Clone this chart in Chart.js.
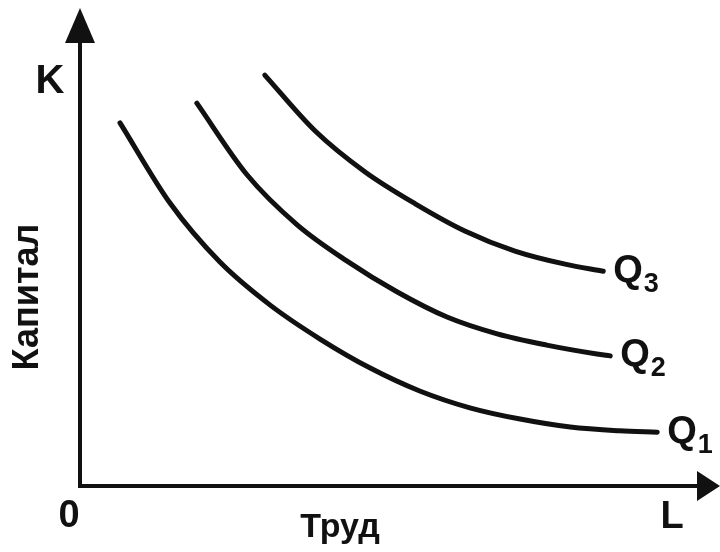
<!DOCTYPE html>
<html>
<head>
<meta charset="utf-8">
<script src="https://cdn.jsdelivr.net/npm/chart.js@4/dist/chart.umd.min.js"></script>
<style>
  body { margin: 0; background: #fff; }
  #wrap { width: 720px; height: 552px; position: relative; }
</style>
</head>
<body>
<div id="wrap"><canvas id="chart1"></canvas></div>
<script>
// isoquants: labour (L) on x, capital (K) on y, 0..100 scale
const q1L = [6.3, 14.2, 22.0, 29.9, 37.8, 45.7, 53.5, 61.4, 69.3, 77.2, 85.0, 90.9];
const q1K = [77.6, 60.4, 47.9, 38.7, 31.4, 25.2, 20.3, 16.7, 14.3, 12.6, 11.8, 11.5];
const q2L = [18.4, 26.3, 34.2, 42.0, 49.9, 57.8, 65.7, 73.5, 81.4, 83.5];
const q2K = [81.8, 66.5, 55.8, 48.1, 41.5, 36.1, 32.5, 30.1, 28.2, 27.8];
const q3L = [29.1, 37.0, 44.9, 52.8, 60.6, 68.5, 76.4, 82.4];
const q3K = [87.8, 75.9, 67.1, 60.3, 54.5, 50.2, 47.4, 45.9];
const curveNames = ['Q', 'Q', 'Q'];
const curveSubs = ['1', '2', '3'];

const axisTitleX = 'Труд';
const axisTitleY = 'Капитал';
const axisLetterX = 'L';
const axisLetterY = 'K';
const originLabel = '0';

const toPoints = (xs, ys) => xs.map((x, i) => ({ x: x, y: ys[i] }));

const ink = '#111';
const fontFam = '"Liberation Sans", Arial, sans-serif';

// axes with arrows + all the text
const drawAxes = {
  id: 'drawAxes',
  afterDraw(chart) {
    const c = chart.ctx;
    const xs = chart.scales.x, ys = chart.scales.y;
    const ox = xs.getPixelForValue(0), oy = ys.getPixelForValue(0);
    const area = chart.chartArea;
    const topTip = area.top - 10, rightTip = area.right + 5;

    c.save();
    c.strokeStyle = ink;
    c.fillStyle = ink;
    c.lineWidth = 4;
    c.beginPath();
    c.moveTo(ox, topTip + 30);
    c.lineTo(ox, oy);
    c.lineTo(rightTip - 20, oy);
    c.stroke();

    // arrow heads
    c.beginPath();
    c.moveTo(ox, topTip);
    c.lineTo(ox - 15, topTip + 35);
    c.lineTo(ox + 15, topTip + 35);
    c.closePath();
    c.fill();
    c.beginPath();
    c.moveTo(rightTip, oy);
    c.lineTo(rightTip - 23, oy - 15);
    c.lineTo(rightTip - 23, oy + 15);
    c.closePath();
    c.fill();

    c.textAlign = 'center';
    c.textBaseline = 'middle';
    c.font = 'bold 40px ' + fontFam;
    c.fillText(axisLetterY, ox - 30, 82);
    c.font = 'bold 38px ' + fontFam;
    c.fillText(originLabel, ox - 11, oy + 31);
    c.fillText(axisLetterX, rightTip - 48, oy + 32);
    c.font = 'bold 34px ' + fontFam;
    c.fillText(axisTitleX, (ox + rightTip) / 2 - 60, oy + 42);

    c.save();
    c.translate(ox - 52, (oy + area.top) / 2 + 45);
    c.rotate(-Math.PI / 2);
    c.font = 'bold 36px ' + fontFam;
    c.fillText(axisTitleY, 0, 0);
    c.restore();

    // curve labels Q1..Q3 at the end of each line
    chart.data.datasets.forEach((ds, i) => {
      const meta = chart.getDatasetMeta(i);
      const last = meta.data[meta.data.length - 1];
      const lx = last.x + 10, ly = last.y;
      c.textAlign = 'left';
      c.textBaseline = 'middle';
      c.font = 'bold 38px ' + fontFam;
      c.fillText(curveNames[i], lx, ly);
      const w = c.measureText(curveNames[i]).width;
      c.font = 'bold 27px ' + fontFam;
      c.fillText(curveSubs[i], lx + w + 1, ly + 13);
    });
    c.restore();
  }
};

const lineStyle = {
  borderColor: ink,
  borderWidth: 5,
  pointRadius: 0,
  showLine: true,
  fill: false,
  cubicInterpolationMode: 'monotone',
  borderCapStyle: 'round'
};

new Chart(document.getElementById('chart1'), {
  type: 'scatter',
  data: {
    datasets: [
      Object.assign({ label: 'Q1', data: toPoints(q1L, q1K) }, lineStyle),
      Object.assign({ label: 'Q2', data: toPoints(q2L, q2K) }, lineStyle),
      Object.assign({ label: 'Q3', data: toPoints(q3L, q3K) }, lineStyle)
    ]
  },
  options: {
    responsive: true,
    maintainAspectRatio: false,
    animation: false,
    layout: { padding: { left: 80, right: 5, top: 18, bottom: 66 } },
    plugins: { legend: { display: false }, tooltip: { enabled: false } },
    scales: {
      x: { type: 'linear', min: 0, max: 100, display: false },
      y: { type: 'linear', min: 0, max: 100, display: false }
    }
  },
  plugins: [drawAxes]
});
</script>
</body>
</html>
